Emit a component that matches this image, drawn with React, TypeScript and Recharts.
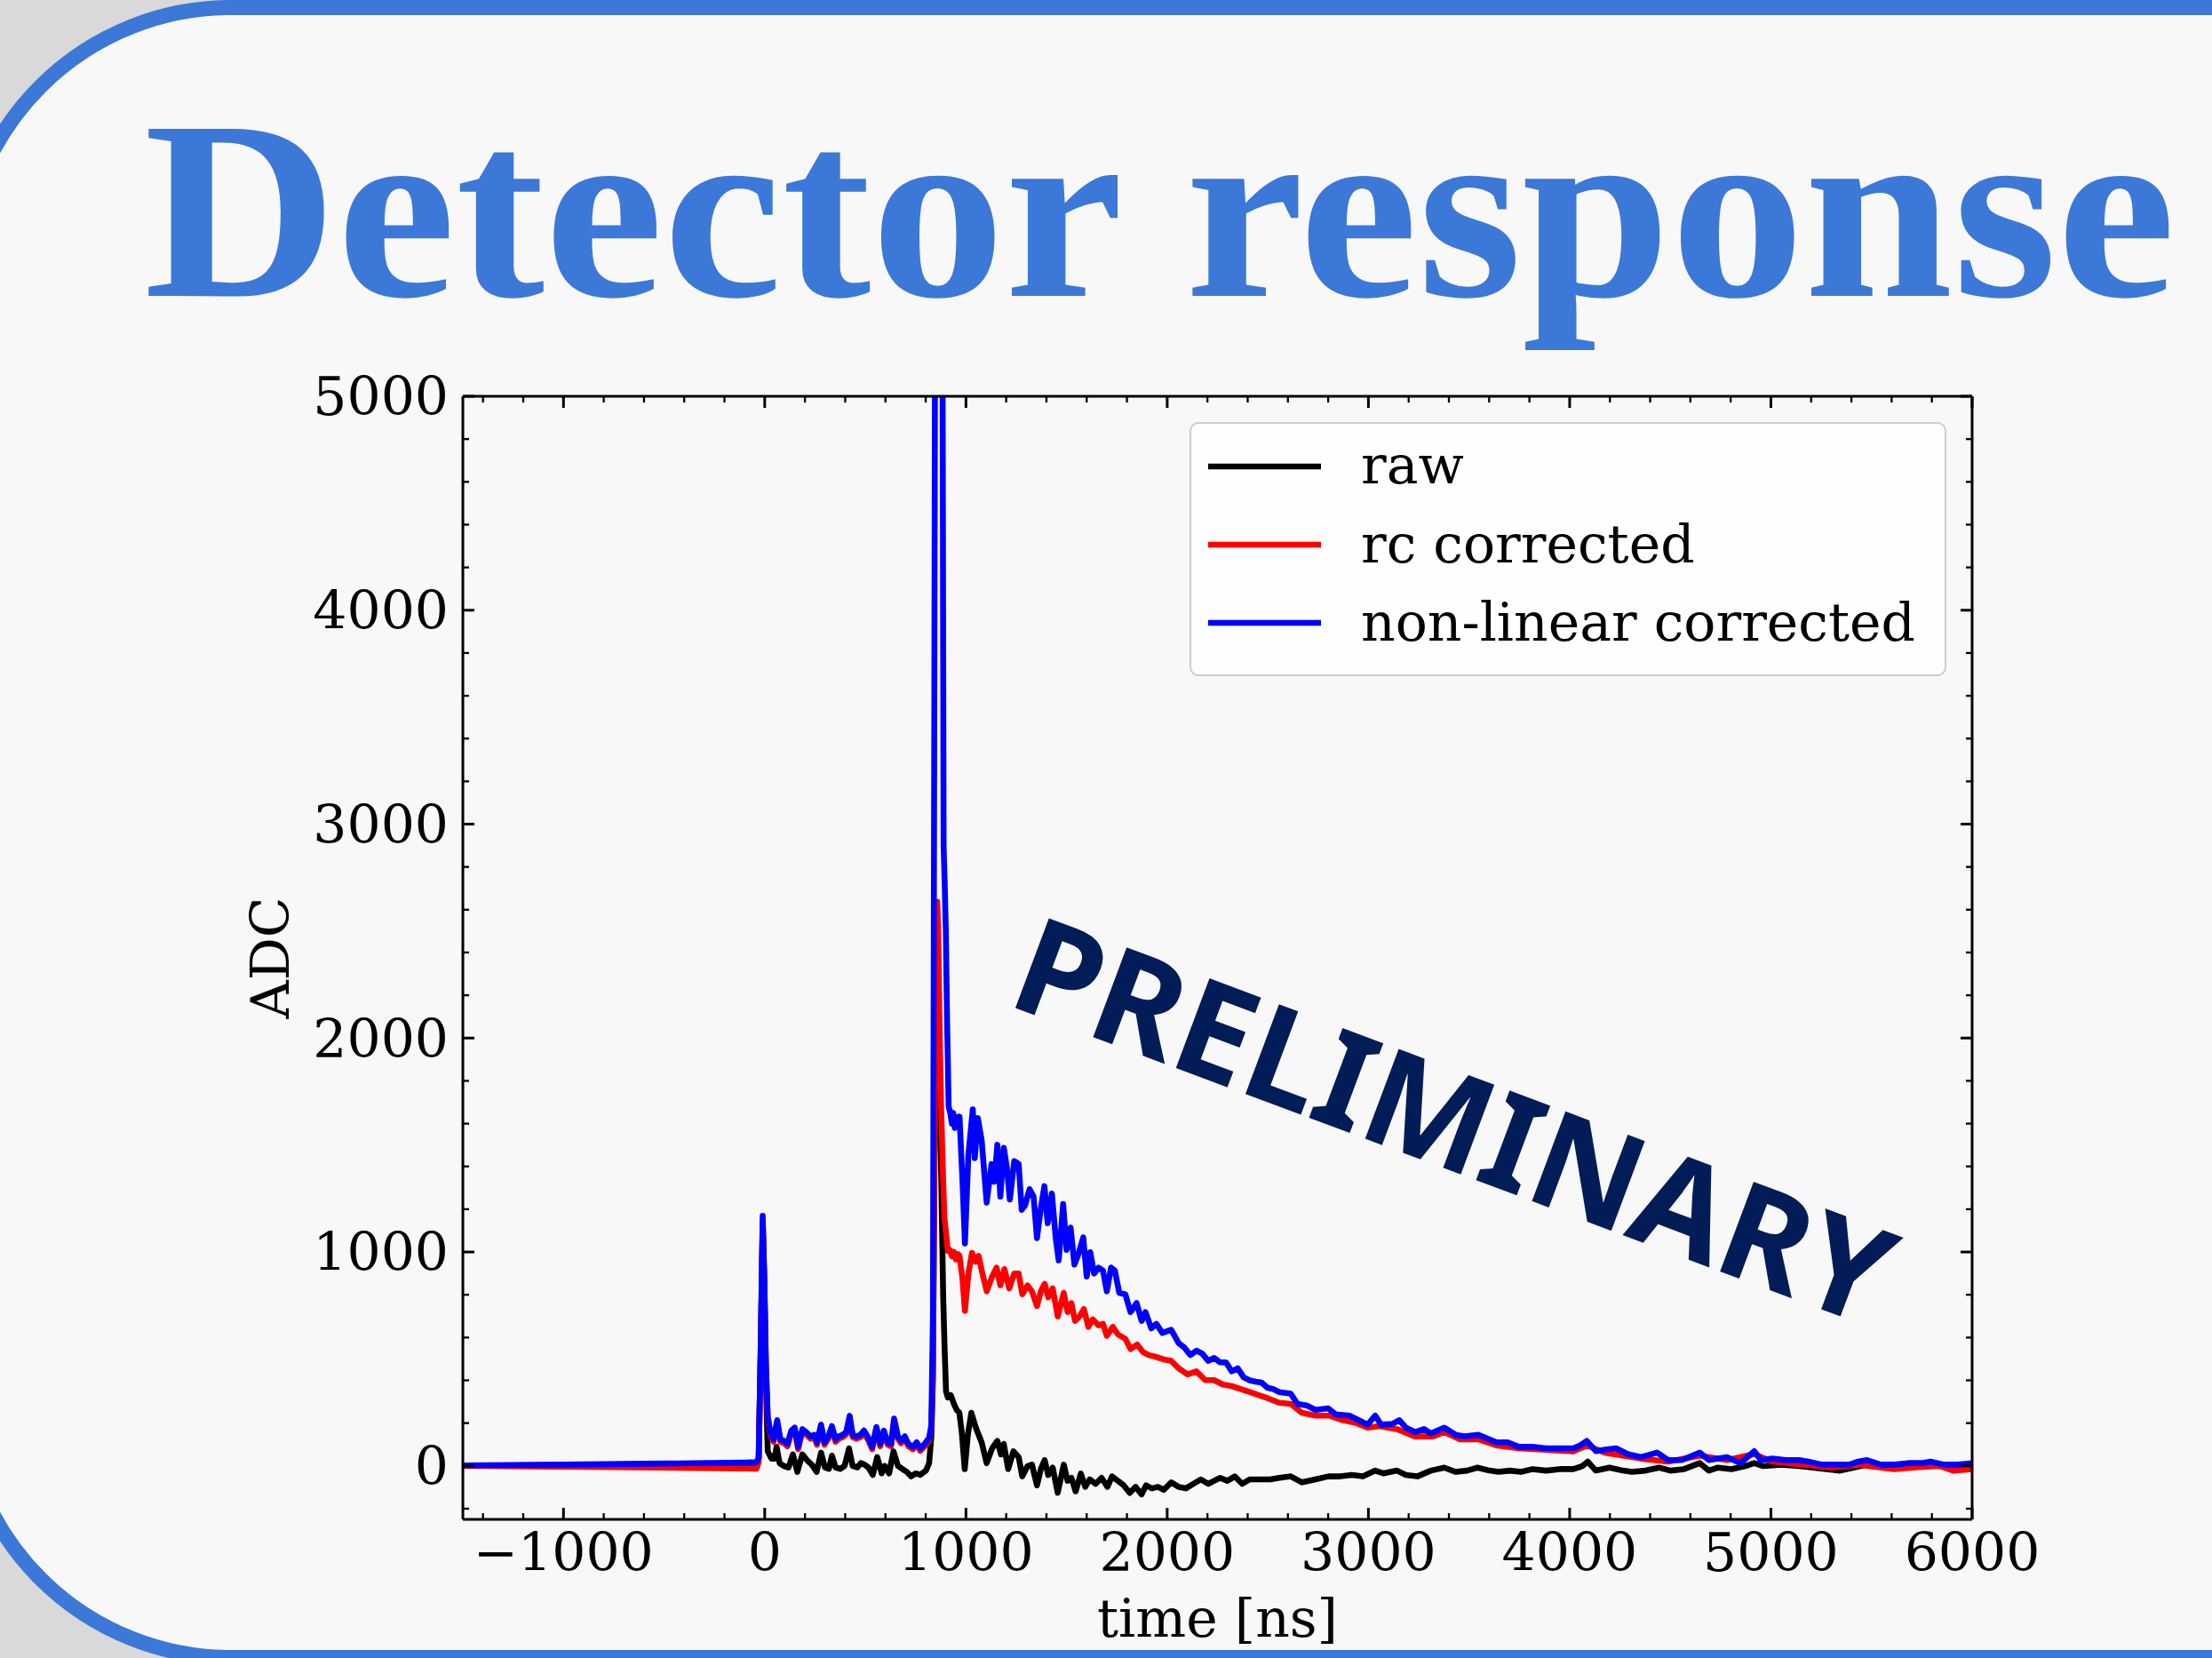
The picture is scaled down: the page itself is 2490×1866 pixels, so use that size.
import { LineChart, Line, XAxis, YAxis, Legend, Label, ReferenceLine } from 'recharts'

// waveform samples: [time ns, ADC]
const rawTrace: [number, number][] = [
  [-1500, 0], [-1000, 4], [-500, 8], [-100, 11], [-40, 12], [-30, 35], [-20, 520], [-10, 1130], [-2, 840], [6, 400],
  [15, 68], [34, 34], [49, 34], [59, 89], [74, 13], [96, -1], [118, -8], [140, 54], [162, -28], [187, 54],
  [210, 27], [235, 5], [258, -28], [280, 62], [299, -7], [319, -14], [334, 48], [352, -7], [375, -14], [397, 0],
  [419, 82], [437, 0], [461, -7], [478, 13], [496, 6], [515, -7], [537, -42], [559, 41], [581, -35], [596, 0],
  [618, -35], [640, 68], [662, 0], [684, -14], [706, -28], [728, -49], [750, -35], [773, -42], [802, -21], [817, 13],
  [828, 138], [836, 400], [843, 1350], [850, 2250], [857, 2550], [864, 2200], [870, 1700], [877, 1358], [887, 786], [894, 550],
  [901, 349], [910, 320], [925, 330], [940, 290], [955, 260], [967, 250], [980, 150], [994, -15], [1010, 150], [1027, 248],
  [1049, 179], [1078, 110], [1103, 13], [1130, 82], [1156, 117], [1174, 54], [1188, 103], [1210, -15], [1236, 68], [1262, 41],
  [1280, -49], [1306, -1], [1328, 6], [1353, -91], [1372, -15], [1391, 27], [1409, -43], [1431, -8], [1456, -126], [1486, 6],
  [1505, -70], [1524, -56], [1545, -119], [1571, -36], [1593, -98], [1615, -63], [1645, -84], [1674, -56], [1703, -98], [1726, -49],
  [1755, -70], [1784, -91], [1814, -126], [1843, -98], [1873, -133], [1895, -91], [1924, -105], [1954, -98], [1983, -112], [2020, -77],
  [2057, -98], [2093, -105], [2130, -84], [2167, -63], [2204, -84], [2233, -70], [2263, -56], [2299, -70], [2336, -49], [2373, -84],
  [2410, -63], [2454, -63], [2512, -63], [2557, -56], [2614, -49], [2670, -77], [2737, -63], [2800, -49], [2861, -49], [2917, -42],
  [2973, -49], [3034, -22], [3074, -35], [3142, -22], [3186, -42], [3243, -49], [3310, -22], [3377, -8], [3434, -28], [3490, -22],
  [3542, -8], [3602, -22], [3647, -28], [3703, -22], [3759, -28], [3816, -15], [3883, -22], [3950, -15], [4018, -15], [4063, -1],
  [4090, 20], [4130, -22], [4198, -8], [4265, -22], [4310, -28], [4377, -22], [4445, -8], [4501, -22], [4568, -15], [4647, 13],
  [4692, -22], [4737, -8], [4804, -15], [4872, -1], [4917, 13], [4962, -1], [5052, 6], [5141, -1], [5209, -8], [5276, -15],
  [5344, -22], [5411, -8], [5478, 6], [5568, -1], [5658, -1], [5748, 6], [5838, -1], [5928, -1], [6000, -1]
]

const rcTrace: [number, number][] = [
  [-1500, 0], [-1000, -4], [-500, -8], [-100, -12], [-40, -13], [-30, 20], [-20, 540], [-10, 1150], [-2, 860], [6, 455],
  [15, 222], [29, 140], [44, 113], [62, 203], [78, 113], [96, 106], [113, 92], [132, 154], [149, 168], [166, 78],
  [187, 161], [206, 147], [228, 127], [246, 134], [260, 99], [280, 182], [297, 99], [316, 127], [334, 175], [352, 113],
  [368, 127], [387, 134], [405, 147], [422, 223], [437, 134], [456, 127], [475, 134], [493, 154], [515, 120], [534, 78],
  [555, 171], [574, 92], [592, 154], [611, 99], [628, 92], [643, 210], [662, 127], [677, 106], [696, 127], [714, 92],
  [736, 78], [755, 99], [773, 71], [795, 92], [817, 120], [828, 180], [836, 450], [843, 1450], [850, 2350], [857, 2637],
  [862, 2500], [868, 2100], [876, 1700], [886, 1358], [893, 1160], [901, 1089], [910, 1005], [920, 1010], [930, 980], [940, 1000],
  [950, 965], [960, 990], [968, 982], [982, 880], [995, 725], [1012, 899], [1030, 996], [1049, 954], [1063, 982], [1082, 899],
  [1103, 816], [1130, 885], [1152, 927], [1171, 844], [1191, 920], [1215, 830], [1240, 899], [1262, 899], [1280, 802], [1306, 844],
  [1328, 816], [1353, 747], [1372, 816], [1391, 851], [1409, 788], [1431, 830], [1456, 698], [1486, 809], [1505, 719], [1524, 761],
  [1542, 678], [1564, 698], [1586, 733], [1608, 650], [1630, 685], [1659, 657], [1681, 664], [1700, 608], [1730, 650], [1755, 615],
  [1792, 594], [1818, 546], [1851, 567], [1880, 532], [1909, 518], [1939, 511], [1983, 498], [2020, 491], [2057, 456], [2101, 428],
  [2145, 442], [2189, 401], [2233, 401], [2277, 380], [2321, 373], [2366, 359], [2410, 345], [2454, 331], [2498, 317], [2557, 295],
  [2614, 290], [2670, 248], [2737, 235], [2805, 235], [2872, 214], [2940, 200], [2996, 179], [3052, 186], [3142, 172], [3231, 138],
  [3321, 138], [3377, 158], [3456, 124], [3546, 124], [3636, 96], [3748, 82], [3883, 75], [4018, 68], [4085, 96], [4175, 62],
  [4265, 48], [4355, 34], [4490, 20], [4647, 48], [4782, 27], [4917, 55], [5007, 20], [5164, 6], [5299, -8], [5434, 6],
  [5613, -15], [5703, -8], [5838, 0], [5905, -22], [6000, -15]
]

const nlTrace: [number, number][] = [
  [-1500, 2], [-1000, 6], [-500, 11], [-100, 16], [-40, 18], [-30, 40], [-20, 560], [-10, 1169], [-2, 880], [6, 470],
  [15, 234], [29, 151], [44, 124], [62, 214], [78, 124], [96, 117], [113, 103], [132, 165], [149, 179], [166, 89],
  [187, 172], [206, 158], [228, 138], [246, 145], [260, 110], [280, 193], [297, 110], [316, 138], [334, 186], [352, 124],
  [368, 138], [387, 145], [405, 158], [422, 234], [437, 145], [456, 138], [475, 145], [493, 165], [515, 131], [534, 89],
  [555, 182], [574, 103], [592, 165], [611, 110], [628, 103], [643, 221], [662, 138], [677, 117], [696, 138], [714, 103],
  [736, 89], [755, 110], [773, 82], [795, 103], [817, 131], [828, 190], [836, 700], [843, 3600], [850, 7200], [865, 9000],
  [880, 6800], [889, 2900], [895, 2700], [900, 2500], [906, 2100], [914, 1680], [922, 1650], [930, 1600], [937, 1650], [945, 1580],
  [955, 1630], [962, 1600], [968, 1633], [982, 1350], [995, 1040], [1012, 1453], [1034, 1667], [1044, 1439], [1059, 1626], [1078, 1522],
  [1103, 1231], [1127, 1411], [1141, 1328], [1156, 1501], [1171, 1259], [1188, 1487], [1203, 1397], [1218, 1245], [1240, 1425], [1262, 1411],
  [1277, 1197], [1294, 1218], [1316, 1294], [1336, 1259], [1353, 1065], [1372, 1204], [1390, 1308], [1406, 1134], [1427, 1273], [1446, 1065],
  [1461, 961], [1483, 1224], [1500, 1010], [1520, 1114], [1539, 941], [1556, 982], [1583, 1068], [1600, 885], [1618, 999], [1637, 899],
  [1659, 927], [1681, 913], [1700, 816], [1721, 927], [1740, 913], [1762, 809], [1792, 802], [1818, 719], [1848, 761], [1873, 678],
  [1892, 719], [1921, 643], [1946, 664], [1976, 622], [2020, 636], [2057, 574], [2086, 553], [2115, 518], [2145, 539], [2174, 525],
  [2204, 491], [2233, 505], [2263, 484], [2292, 484], [2321, 442], [2351, 456], [2380, 414], [2410, 400], [2439, 394], [2469, 390],
  [2498, 366], [2527, 359], [2557, 345], [2614, 338], [2647, 290], [2692, 283], [2737, 262], [2800, 269], [2838, 241], [2906, 235],
  [2951, 214], [2996, 193], [3034, 235], [3063, 193], [3119, 196], [3153, 214], [3186, 179], [3231, 158], [3276, 172], [3310, 152],
  [3377, 179], [3434, 145], [3479, 138], [3546, 145], [3602, 124], [3636, 110], [3692, 110], [3748, 89], [3816, 89], [3883, 82],
  [3950, 82], [4018, 82], [4052, 96], [4085, 117], [4130, 69], [4175, 76], [4231, 82], [4288, 55], [4355, 41], [4434, 62],
  [4490, 27], [4557, 27], [4647, 62], [4692, 27], [4737, 34], [4782, 41], [4849, 13], [4917, 69], [4950, 27], [5007, 34],
  [5074, 27], [5141, 27], [5186, 20], [5254, 6], [5321, 6], [5389, 6], [5434, 20], [5478, 27], [5546, 6], [5613, 6],
  [5681, 13], [5748, 13], [5793, 20], [5861, 6], [5928, 6], [6000, 13]
]

const seriesNames = ['raw', 'rc corrected', 'non-linear corrected']
const seriesColors = ['#000000', '#ff0000', '#0000ff']

const xMajorTicks = [-1000, 0, 1000, 2000, 3000, 4000, 5000, 6000]
const yMajorTicks = [0, 1000, 2000, 3000, 4000, 5000]
const xMinorTicks = Array.from({ length: 37 }, (_, i) => -1400 + i * 200).filter((v) => v % 1000 !== 0)
const yMinorTicks = Array.from({ length: 26 }, (_, i) => -200 + i * 200).filter((v) => v % 1000 !== 0)

const X_DOMAIN: [number, number] = [-1500, 6000]
const Y_DOMAIN: [number, number] = [-250, 5000]

const SERIF = 'DejaVu Serif'
const LINE_W = 6.6
const SPINE = 3
const THIN = 0.01
const MAJOR_LEN = 13
const MINOR_LEN = 7
const PLOT_H = 1264
// tick length in ADC units for the vertical x-axis marks
const pxToAdc = (px: number) => (px * (Y_DOMAIN[1] - Y_DOMAIN[0])) / PLOT_H

const toRows = (trace: [number, number][]) => trace.map(([t, v]) => ({ t, v }))

const fmt = (v: number) => (v < 0 ? '\u2212' + Math.abs(v) : String(v))

// inward tick mark drawn at the spot recharts hands to the y tick renderer
const tickMark = (side: 'left' | 'right', len: number, w: number) => (props: any) => {
  const { x, y } = props
  const dx = side === 'left' ? len : -len
  return <line x1={x} y1={y} x2={x + dx} y2={y} stroke="#000" strokeWidth={w} />
}

function LegendBox(props: any) {
  const payload = [...(props.payload || [])].sort(
    (a: any, b: any) => seriesNames.indexOf(a.value) - seriesNames.indexOf(b.value)
  )
  return (
    <div
      style={{
        boxSizing: 'border-box',
        width: 852,
        height: 286,
        border: '2.6px solid #cccccc',
        borderRadius: 10,
        background: 'rgba(255,255,255,0.8)',
        position: 'relative'
      }}
    >
      <svg width={852} height={286} style={{ position: 'absolute', left: -2.6, top: -2.6, overflow: 'visible' }}>
        {payload.map((p: any, i: number) => (
          <g key={p.value}>
            <line x1={22} x2={149} y1={51 + i * 88} y2={51 + i * 88} stroke={p.color} strokeWidth={LINE_W} />
            <text x={194} y={70 + i * 88.5} fontFamily={SERIF} fontSize={60} fill="#000">
              {p.value}
            </text>
          </g>
        ))}
      </svg>
    </div>
  )
}

const tickFont = { fontFamily: SERIF, fontSize: 60, fill: '#000' }
const spine = { stroke: '#000', strokeWidth: SPINE }

function xTickMarks(ticks: number[], len: number, w: number, tag: string) {
  const d = pxToAdc(len)
  return ticks.flatMap((t) => [
    <ReferenceLine
      key={`${tag}-b-${t}`}
      xAxisId="b"
      yAxisId="l"
      ifOverflow="visible"
      segment={[{ x: t, y: Y_DOMAIN[0] }, { x: t, y: Y_DOMAIN[0] + d }]}
      stroke="#000"
      strokeWidth={w}
    />,
    <ReferenceLine
      key={`${tag}-t-${t}`}
      xAxisId="b"
      yAxisId="l"
      ifOverflow="visible"
      segment={[{ x: t, y: Y_DOMAIN[1] }, { x: t, y: Y_DOMAIN[1] - d }]}
      stroke="#000"
      strokeWidth={w}
    />
  ])
}

export default function App() {
  const traces = [rawTrace, rcTrace, nlTrace]
  const common = { type: 'number' as const, allowDataOverflow: true, interval: 0, tickSize: 0, tickMargin: 0, tickLine: false, stroke: '#000' }
  return (
    <div style={{ position: 'relative', width: 2490, height: 1866, overflow: 'hidden', background: '#d9d9d9' }}>
      <style>{'body{margin:0}'}</style>
      <svg width={2490} height={1866} style={{ position: 'absolute', left: 0, top: 0 }}>
        <rect x={-43.5} y={8.5} width={2900} height={1857} rx={303.5} ry={303.5} fill="#f8f8f8" stroke="#3c78d8" strokeWidth={17} />
      </svg>
      <div style={{ position: 'absolute', left: 0, top: 0 }}>
        <LineChart width={2490} height={1866} margin={{ top: 446, right: 270, bottom: 156, left: 521 }}>
          <XAxis
            {...common}
            xAxisId="b"
            dataKey="t"
            domain={X_DOMAIN}
            ticks={xMajorTicks}
            height={THIN}
            tickMargin={15}
            tickFormatter={fmt}
            tick={tickFont}
            axisLine={spine}
          >
            <Label
              content={(p: any) => (
                <text x={p.viewBox.x + p.viewBox.width / 2} y={1842} textAnchor="middle" fontFamily={SERIF} fontSize={60} fill="#000">
                  time [ns]
                </text>
              )}
            />
          </XAxis>
          <XAxis {...common} xAxisId="t" orientation="top" domain={X_DOMAIN} ticks={xMajorTicks} height={THIN} axisLine={spine} tick={false} />
          <YAxis
            {...common}
            yAxisId="l"
            domain={Y_DOMAIN}
            ticks={yMajorTicks}
            width={THIN}
            tickMargin={16}
            tickFormatter={fmt}
            tick={tickFont}
            axisLine={spine}
          >
            <Label
              content={(p: any) => {
                const cx = 304
                const cy = p.viewBox.y + p.viewBox.height / 2
                return (
                  <text x={cx} y={cy} transform={`rotate(-90 ${cx} ${cy})`} textAnchor="middle" dominantBaseline="central" fontFamily={SERIF} fontSize={60} fill="#000">
                    ADC
                  </text>
                )
              }}
            />
          </YAxis>
          <YAxis {...common} yAxisId="lM" domain={Y_DOMAIN} ticks={yMajorTicks} width={THIN} axisLine={false} tick={tickMark('left', MAJOR_LEN, SPINE)} />
          <YAxis {...common} yAxisId="lm" domain={Y_DOMAIN} ticks={yMinorTicks} width={THIN} axisLine={false} tick={tickMark('left', MINOR_LEN, 2.3)} />
          <YAxis {...common} yAxisId="rM" orientation="right" domain={Y_DOMAIN} ticks={yMajorTicks} width={THIN} axisLine={spine} tick={tickMark('right', MAJOR_LEN, SPINE)} />
          <YAxis {...common} yAxisId="rm" orientation="right" domain={Y_DOMAIN} ticks={yMinorTicks} width={THIN} axisLine={false} tick={tickMark('right', MINOR_LEN, 2.3)} />
          {xTickMarks(xMajorTicks, MAJOR_LEN, SPINE, 'M')}
          {xTickMarks(xMinorTicks, MINOR_LEN, 2.3, 'm')}
          {traces.map((trace, i) => (
            <Line
              key={seriesNames[i]}
              xAxisId="b"
              yAxisId="l"
              data={toRows(trace)}
              dataKey="v"
              name={seriesNames[i]}
              type="linear"
              stroke={seriesColors[i]}
              strokeWidth={LINE_W}
              strokeLinejoin="round"
              dot={false}
              activeDot={false}
              isAnimationActive={false}
            />
          ))}
          <Legend
            layout="horizontal"
            verticalAlign="middle"
            align="center"
            content={<LegendBox />}
            wrapperStyle={{ left: 1339, top: 475, width: 852, height: 286 }}
          />
        </LineChart>
      </div>
      <svg width={2490} height={1866} style={{ position: 'absolute', left: 0, top: 0, pointerEvents: 'none' }}>
        <text x={162} y={333} fontFamily="Liberation Serif" fontWeight="bold" fontSize={287} fill="#3c78d8" textLength={2287} lengthAdjust="spacingAndGlyphs">
          Detector response
        </text>
        <text
          x={1618}
          y={1312}
          textAnchor="middle"
          transform="rotate(20.5 1618 1312)"
          fontFamily="Noto Sans"
          fontWeight={700}
          fontSize={151}
          fill="#021c57"
          textLength={1040}
          lengthAdjust="spacingAndGlyphs"
        >
          PRELIMINARY
        </text>
      </svg>
    </div>
  )
}
